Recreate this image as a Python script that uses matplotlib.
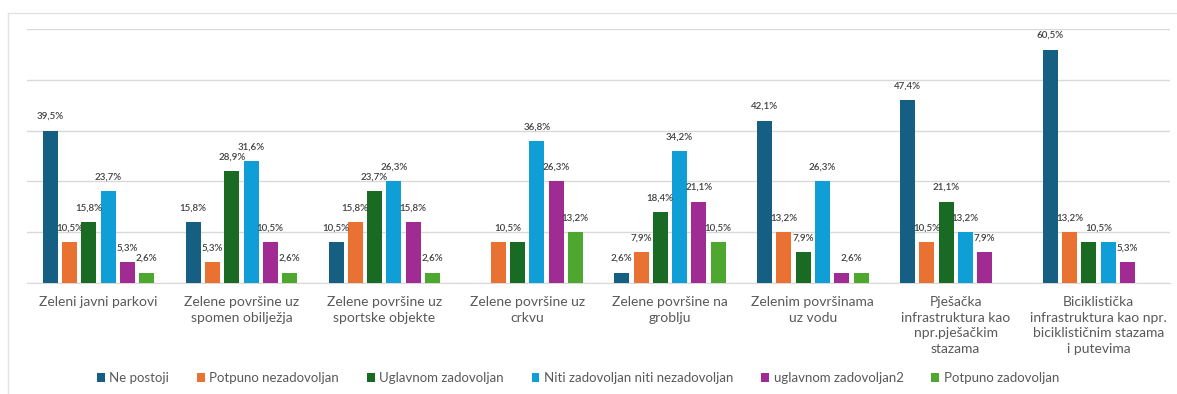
import numpy as np
import matplotlib
matplotlib.use("Agg")
import matplotlib.pyplot as plt
from matplotlib.lines import Line2D

# Survey results per green-space type (share of 38 respondents, %)
categories = [
    "Zeleni javni parkovi",
    "Zelene površine uz\nspomen obilježja",
    "Zelene površine uz\nsportske objekte",
    "Zelene površine uz\ncrkvu",
    "Zelene površine na\ngroblju",
    "Zelenim površinama\nuz vodu",
    "Pješačka\ninfrastruktura kao\nnpr.pješačkim\nstazama",
    "Biciklistička\ninfrastruktura kao npr.\nbiciklističnim stazama\ni putevima",
]

series_names = [
    "Ne postoji",
    "Potpuno nezadovoljan",
    "Uglavnom zadovoljan",
    "Niti zadovoljan niti nezadovoljan",
    "uglavnom zadovoljan2",
    "Potpuno zadovoljan",
]

ne_postoji = [39.5, 15.8, 10.5, 0.0, 2.6, 42.1, 47.4, 60.5]
potpuno_nezadovoljan = [10.5, 5.3, 15.8, 10.5, 7.9, 13.2, 10.5, 13.2]
uglavnom_zadovoljan = [15.8, 28.9, 23.7, 10.5, 18.4, 7.9, 21.1, 10.5]
niti_niti = [23.7, 31.6, 26.3, 36.8, 34.2, 26.3, 13.2, 10.5]
uglavnom_zadovoljan2 = [5.3, 10.5, 15.8, 26.3, 21.1, 2.6, 7.9, 5.3]
potpuno_zadovoljan = [2.6, 2.6, 2.6, 13.2, 10.5, 2.6, 0.0, 0.0]

series = [ne_postoji, potpuno_nezadovoljan, uglavnom_zadovoljan,
          niti_niti, uglavnom_zadovoljan2, potpuno_zadovoljan]
colors = ["#156082", "#E97132", "#196B24", "#0F9ED5", "#A02B93", "#4EA72E"]

plt.rcParams["font.family"] = ["Lato", "DejaVu Sans"]
TXT = "#595959"

fig = plt.figure(figsize=(11.77, 3.94), dpi=100)
ax = fig.add_axes([0.023, 0.282, 0.971, 0.644])

x = np.arange(len(categories))
pitch = 0.135
width = 0.105
for i, (vals, col) in enumerate(zip(series, colors)):
    ax.bar(x + (i - 2.5) * pitch, vals, width=width, color=col,
           label=series_names[i], zorder=3)

# value labels; two equal neighbouring bars share one label
fmt = lambda v: f"{v:.1f}".replace(".", ",") + "%"
for g in range(len(categories)):
    i = 0
    while i < len(series):
        v = series[i][g]
        if v == 0:
            i += 1
            continue
        xs = [i]
        if i + 1 < len(series) and series[i + 1][g] == v:
            xs.append(i + 1)
        xc = g + (np.mean(xs) - 2.5) * pitch
        ax.annotate(fmt(v), (xc, v), xytext=(0, 7), textcoords="offset points",
                    ha="center", va="bottom", fontsize=7, color="#404040",
                    fontweight="semibold")
        i += len(xs)

# gridlines every 5 respondents
unit = 100 * 5 / 38
ax.set_ylim(0, 5 * unit)
ax.set_yticks(np.arange(0, 5.5) * unit)
ax.set_xlim(-0.5, len(categories) - 0.5)
ax.yaxis.grid(True, color="#D9D9D9", lw=1, zorder=0)
ax.tick_params(axis="y", left=False, labelleft=False)
ax.tick_params(axis="x", bottom=False, pad=6)
ax.set_xticks(x)
ax.set_xticklabels(categories, fontsize=10, color=TXT, linespacing=1.35,
                   va="top")
for s in ["top", "right", "left"]:
    ax.spines[s].set_visible(False)
ax.spines["bottom"].set_color("#D9D9D9")

ax.legend(loc="center", bbox_to_anchor=(0.491, 0.04), bbox_transform=fig.transFigure,
          ncol=6, frameon=False, fontsize=9.5, labelcolor=TXT,
          handlelength=0.6, handleheight=0.6, handletextpad=0.35,
          columnspacing=2.1)

# chart frame
fig.add_artist(Line2D([8 / 1177, 8 / 1177], [0, 1 - 13 / 394],
                      transform=fig.transFigure, color="#E3E3E3", lw=1))
fig.add_artist(Line2D([8 / 1177, 1], [1 - 13 / 394, 1 - 13 / 394],
                      transform=fig.transFigure, color="#E3E3E3", lw=1))

fig.savefig("out.png", dpi=100)
